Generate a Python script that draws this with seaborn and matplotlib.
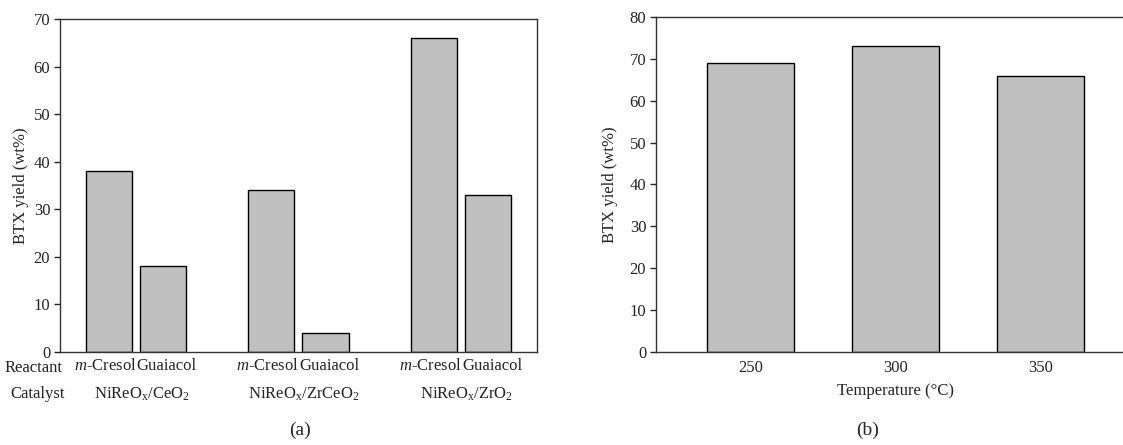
import numpy as np
import pandas as pd
import seaborn as sns
import matplotlib.pyplot as plt

# ---------------------------------------------------------
# Data
# ---------------------------------------------------------
catalysts = ["NiReO$_\\mathrm{x}$/CeO$_2$", "NiReO$_\\mathrm{x}$/ZrCeO$_2$", "NiReO$_\\mathrm{x}$/ZrO$_2$"]
reactants = ["$\\it{m}$-Cresol", "Guaiacol"]
btx_cresol = [38, 34, 66]
btx_guaiacol = [18, 4, 33]

temperatures = ["250", "300", "350"]
btx_temp = [69, 73, 66]

df_a = pd.DataFrame({
    "catalyst": catalysts * 2,
    "reactant": [reactants[0]] * 3 + [reactants[1]] * 3,
    "btx": btx_cresol + btx_guaiacol,
})
df_b = pd.DataFrame({"temperature": temperatures, "btx": btx_temp})

# ---------------------------------------------------------
# Style
# ---------------------------------------------------------
sns.set_style("ticks")
plt.rcParams["font.family"] = ["Liberation Serif", "DejaVu Serif"]
plt.rcParams["mathtext.fontset"] = "custom"
plt.rcParams["mathtext.rm"] = "Liberation Serif"
plt.rcParams["mathtext.it"] = "Liberation Serif:italic"
plt.rcParams["font.size"] = 12
plt.rcParams["axes.edgecolor"] = "#333333"
plt.rcParams["axes.linewidth"] = 1.0

bar_kw = dict(color="#c0c0c0", edgecolor="black", linewidth=1.0)

fig = plt.figure(figsize=(11.23, 4.45), dpi=100)
ax1 = fig.add_axes([0.0534, 0.209, 0.4248, 0.748])
ax2 = fig.add_axes([0.5841, 0.209, 0.4265, 0.7528])

# ---------------------------------------------------------
# (a) catalyst / reactant
# ---------------------------------------------------------
sns.barplot(data=df_a, x="catalyst", y="btx", hue="reactant", order=catalysts,
            hue_order=reactants, width=0.664, gap=0.148, palette=["#c0c0c0"] * 2,
            edgecolor="black", linewidth=1.0, legend=False, ax=ax1)
ax1.set_xlim(-0.466, 2.466)
ax1.set_ylim(0, 70)
ax1.set_yticks(np.arange(0, 71, 10))
ax1.set_ylabel("BTX yield (wt%)", labelpad=3)
ax1.set_xlabel("")

# reactant labels spread a little wider than the bars so they don't collide
label_off = 0.19
pos = []
labs = []
for i in range(len(catalysts)):
    pos += [i - label_off, i + label_off]
    labs += reactants
ax1.set_xticks(pos)
ax1.set_xticklabels(labs)
ax1.tick_params(axis="x", length=0, pad=4)
ax1.tick_params(axis="y", direction="out", length=4, width=1, pad=3)

# catalyst row, centred under each group
for i, cat in enumerate(catalysts):
    xd = ax1.transData.transform((i + 0.035, 0))[0]
    xf = fig.transFigure.inverted().transform((xd, 0))[0]
    fig.text(xf, 1 - 394 / 445, cat, ha="center", va="center")
fig.text(5 / 1123, 1 - 368 / 445, "Reactant", ha="left", va="center")
fig.text(10 / 1123, 1 - 394 / 445, "Catalyst", ha="left", va="center")
fig.text(300 / 1123, 1 - 430 / 445, "(a)", ha="center", va="center", fontsize=14)

# ---------------------------------------------------------
# (b) temperature
# ---------------------------------------------------------
sns.barplot(data=df_b, x="temperature", y="btx", order=temperatures,
            width=0.6, ax=ax2, **bar_kw)
ax2.set_xlim(-0.649, 2.649)
ax2.set_ylim(0, 80)
ax2.set_yticks(np.arange(0, 81, 10))
ax2.set_ylabel("BTX yield (wt%)", labelpad=8)
ax2.set_xlabel("Temperature (°C)", labelpad=5)
ax2.tick_params(axis="x", length=0, pad=6)
ax2.tick_params(axis="y", direction="out", length=4, width=1, pad=3)
ax2.spines["right"].set_visible(False)
fig.text(868 / 1123, 1 - 430 / 445, "(b)", ha="center", va="center", fontsize=14)

plt.savefig("out.png", dpi=100)
plt.close()
